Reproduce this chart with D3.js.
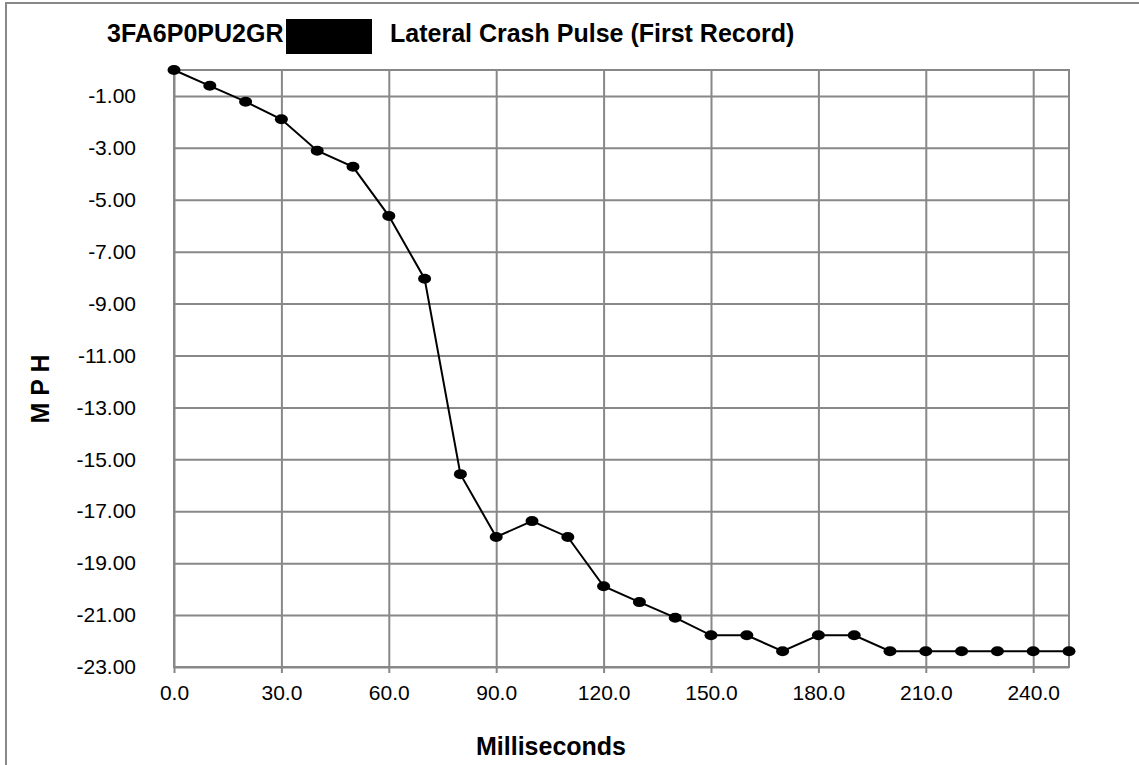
<!DOCTYPE html>
<html>
<head>
<meta charset="utf-8">
<script src="https://cdn.jsdelivr.net/npm/d3@7"></script>
<style>
    body { margin: 0; background: #fff; }
    svg { display: block; font-family: Arial, "Liberation Sans", sans-serif; }
</style>
</head>
<body>
<svg></svg>
<script>

// data
let time = [0, 10, 20, 30, 40, 50, 60, 70, 80, 90, 100, 110, 120, 130, 140, 150, 160, 170, 180, 190, 200, 210, 220, 230, 240, 250]
let mph = [0, -0.61, -1.22, -1.90, -3.11, -3.73, -5.62, -8.04, -15.57, -17.99, -17.38, -17.99, -19.89, -20.50, -21.10, -21.78, -21.78, -22.39, -21.78, -21.78, -22.39, -22.39, -22.39, -22.39, -22.39, -22.39]
let xTicks = [0, 30, 60, 90, 120, 150, 180, 210, 240]
let yTicks = [-1, -3, -5, -7, -9, -11, -13, -15, -17, -19, -21, -23]

let width = 1139
let height = 765
// plot area edges ('top' is taken by window.top)
let plotLeft = 174
let plotRight = 1069
let plotTop = 70
let plotBottom = 667
let gridColor = '#888'

let xScale
let yScale

let svg = d3.select('svg')

let drawCanvas = () => {
    svg.attr('width', width)
       .attr('height', height)

    // outer frame, only top and left are on the picture
    svg.append('rect')
        .attr('x', 6)
        .attr('y', 3)
        .attr('width', width + 20)
        .attr('height', height + 20)
        .attr('fill', 'white')
        .attr('stroke', gridColor)
        .attr('stroke-width', 2)
}

let drawScale = () => {
    xScale = d3.scaleLinear()
                .domain([0, 250])
                .range([plotLeft, plotRight])

    yScale = d3.scaleLinear()
                .domain([-23, 0])
                .range([plotBottom, plotTop])
}

let drawAxis = () => {
    let xAxis = d3.axisBottom(xScale)
                    .tickValues(xTicks)
                    .tickFormat((d) => d.toFixed(1))
                    .tickSizeInner(-(plotBottom - plotTop))
                    .tickSizeOuter(0)
                    .tickPadding(18)

    let gx = svg.append('g')
        .attr('id', 'x-axis')
        .attr('transform', 'translate(0,' + plotBottom + ')')
        .call(xAxis)
    gx.select('.domain').remove()
    gx.selectAll('line')
        .attr('y1', 6) // little tick below the axis
        .attr('stroke', gridColor)
        .attr('stroke-width', 2)

    // toFixed keeps the plain hyphen, d3.format would give a unicode minus
    let yAxis = d3.axisLeft(yScale)
                    .tickValues(yTicks)
                    .tickFormat((d) => d.toFixed(2))
                    .tickSizeInner(-(plotRight - plotLeft))
                    .tickSizeOuter(0)
                    .tickPadding(38)

    let gy = svg.append('g')
        .attr('id', 'y-axis')
        .attr('transform', 'translate(' + plotLeft + ',0)')
        .call(yAxis)
    gy.select('.domain').remove()
    gy.selectAll('line')
        .attr('stroke', gridColor)
        .attr('stroke-width', 2)

    svg.selectAll('.tick text')
        .attr('fill', 'black')
        .style('font-size', '21px')
        .style('font-family', 'Arial, "Liberation Sans", sans-serif')

    // plot area border
    svg.append('rect')
        .attr('x', plotLeft)
        .attr('y', plotTop)
        .attr('width', plotRight - plotLeft)
        .attr('height', plotBottom - plotTop)
        .attr('fill', 'none')
        .attr('stroke', gridColor)
        .attr('stroke-width', 2)
}

let drawLine = () => {
    let points = time.map((t, i) => [t, mph[i]])

    let line = d3.line()
                .x((d) => xScale(d[0]))
                .y((d) => yScale(d[1]))

    svg.append('path')
        .datum(points)
        .attr('d', line)
        .attr('fill', 'none')
        .attr('stroke', 'black')
        .attr('stroke-width', 2)

    svg.selectAll('ellipse')
        .data(points)
        .enter()
        .append('ellipse')
        .attr('cx', (d) => xScale(d[0]))
        .attr('cy', (d) => yScale(d[1]))
        .attr('rx', 6.5)
        .attr('ry', 5)
        .attr('fill', 'black')
}

let drawTitles = () => {
    svg.append('text')
        .attr('x', 107)
        .attr('y', 42)
        .style('font-size', '25px')
        .style('font-weight', 'bold')
        .text('3FA6P0PU2GR')

    // redacted part of the VIN
    svg.append('rect')
        .attr('x', 286)
        .attr('y', 19)
        .attr('width', 86)
        .attr('height', 35)
        .attr('fill', 'black')

    svg.append('text')
        .attr('x', 390)
        .attr('y', 42)
        .style('font-size', '25px')
        .style('font-weight', 'bold')
        .text('Lateral Crash Pulse (First Record)')

    svg.append('text')
        .attr('x', 551)
        .attr('y', 755)
        .attr('text-anchor', 'middle')
        .style('font-size', '25px')
        .style('font-weight', 'bold')
        .text('Milliseconds')

    svg.append('text')
        .attr('transform', 'translate(49,389) rotate(-90)')
        .attr('text-anchor', 'middle')
        .style('font-size', '25px')
        .style('font-weight', 'bold')
        .text('M P H')
}

drawCanvas()
drawScale()
drawAxis()
drawLine()
drawTitles()
</script>
</body>
</html>
